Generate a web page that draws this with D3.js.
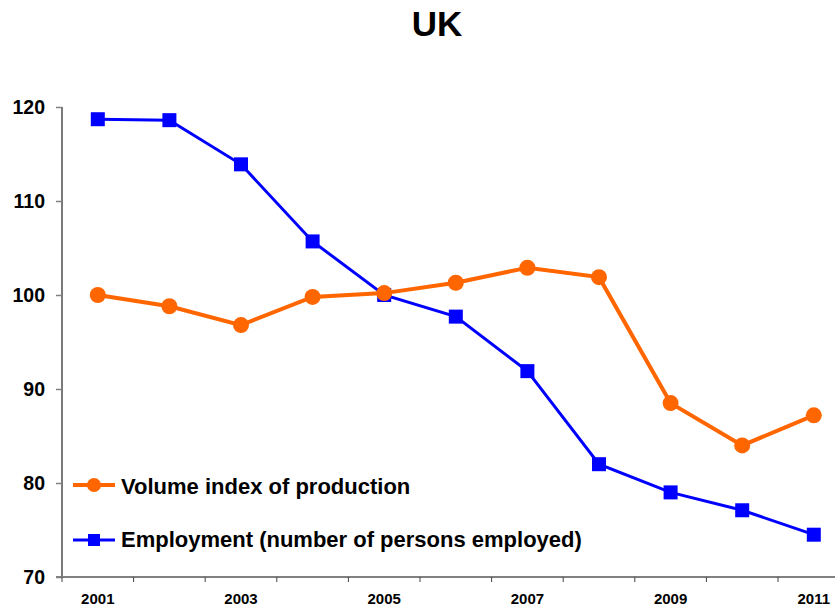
<!DOCTYPE html>
<html><head><meta charset="utf-8">
<script src="https://cdn.jsdelivr.net/npm/d3@7"></script>
<style>body{margin:0;background:#fff;} svg{display:block;font-family:Arial,"Liberation Sans",sans-serif;}</style>
</head><body>
<script>
const years = [2001,2002,2003,2004,2005,2006,2007,2008,2009,2010,2011];
const production = [100,98.8,96.8,99.8,100.2,101.3,102.9,101.9,88.5,84.0,87.2];
const employment = [118.7,118.6,113.9,105.7,100,97.7,91.9,82.0,79.0,77.1,74.5];
const yTicks = [70,80,90,100,110,120];
const xLabels = [2001,2003,2005,2007,2009,2011];
const seriesNames = ["Volume index of production","Employment (number of persons employed)"];

const W=835,H=609;
const svg=d3.select("body").append("svg").attr("width",W).attr("height",H);
const left=62, bandW=71.6;
const x=d3.scaleBand().domain(years).range([left,left+bandW*years.length]).padding(0);
const y=d3.scaleLinear().domain([70,120]).range([577,107]);

svg.append("text").attr("x",437).attr("y",36).attr("text-anchor","middle")
  .attr("font-size",35).attr("font-weight","bold").text("UK");

// y axis
const ya=svg.append("g").attr("transform",`translate(${left},0)`).call(d3.axisLeft(y).tickValues(yTicks).tickSize(6).tickPadding(11).tickFormat(d3.format("d")));
ya.select(".domain").attr("stroke","#222").attr("stroke-width",1.2).attr("d",`M0,${y(120)}V${y(70)}`);
ya.selectAll(".tick line").attr("stroke","#808080").attr("stroke-width",1.5);
ya.selectAll(".tick text").attr("font-size",19.5).attr("font-weight","bold").attr("fill","#000").attr("font-family","Arial,'Liberation Sans',sans-serif");

// x axis
const xa=svg.append("g").attr("transform",`translate(0,${y(70)})`);
xa.append("line").attr("x1",left-6).attr("x2",W).attr("y1",0).attr("y2",0).attr("stroke","#808080").attr("stroke-width",2);
xa.selectAll("line.t").data(d3.range(years.length+1)).enter().append("line").attr("class","t")
  .attr("x1",i=>left+i*bandW).attr("x2",i=>left+i*bandW).attr("y1",0).attr("y2",5).attr("stroke","#444").attr("stroke-width",1);
xa.selectAll("text").data(xLabels).enter().append("text")
  .attr("x",d=>x(d)+x.bandwidth()/2).attr("y",27).attr("text-anchor","middle")
  .attr("font-size",15).attr("font-weight","bold").text(d=>d);

const cx=d=>x(d)+x.bandwidth()/2;
const line=d3.line().x((d,i)=>cx(years[i])).y(d=>y(d));

svg.append("path").datum(employment).attr("d",line).attr("fill","none").attr("stroke","#0000FF").attr("stroke-width",3);
svg.selectAll("rect.e").data(employment).enter().append("rect").attr("class","e")
  .attr("x",(d,i)=>cx(years[i])-7).attr("y",d=>y(d)-7).attr("width",14).attr("height",14).attr("fill","#0000FF");

svg.append("path").datum(production).attr("d",line).attr("fill","none").attr("stroke","#FF6600").attr("stroke-width",4);
svg.selectAll("circle.p").data(production).enter().append("circle").attr("class","p")
  .attr("cx",(d,i)=>cx(years[i])).attr("cy",d=>y(d)).attr("r",8).attr("fill","#FF6600");

// legend
const lg=svg.append("g");
lg.append("line").attr("x1",73).attr("x2",115).attr("y1",485).attr("y2",485).attr("stroke","#FF6600").attr("stroke-width",4);
lg.append("circle").attr("cx",94).attr("cy",485).attr("r",7).attr("fill","#FF6600");
lg.append("text").attr("x",121).attr("y",494).attr("font-size",22).attr("font-weight","bold").text(seriesNames[0]);
lg.append("line").attr("x1",73).attr("x2",115).attr("y1",540).attr("y2",540).attr("stroke","#0000FF").attr("stroke-width",3);
lg.append("rect").attr("x",88).attr("y",534).attr("width",12).attr("height",12).attr("fill","#0000FF");
lg.append("text").attr("x",121).attr("y",547).attr("font-size",22).attr("font-weight","bold").text(seriesNames[1]);
</script>
</body></html>
